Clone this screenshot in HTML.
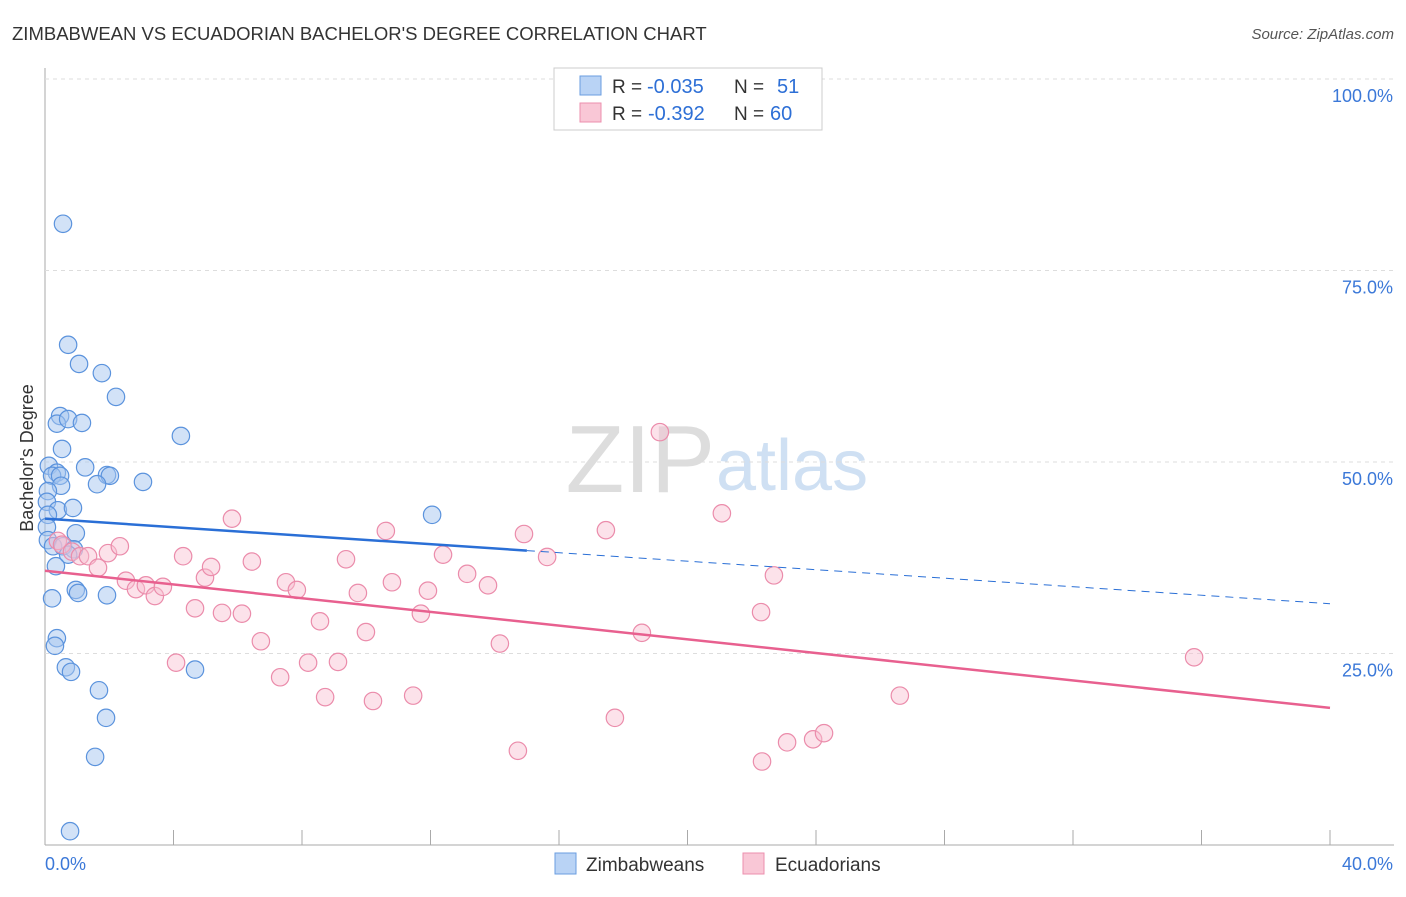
<!DOCTYPE html>
<html><head><meta charset="utf-8"><style>
body{margin:0;background:#fff;font-family:"Liberation Sans",sans-serif}
svg text{font-family:"Liberation Sans",sans-serif}
</style></head><body>
<svg id="c" width="1406" height="892">
<text x="12" y="40" font-size="18.5" fill="#333">ZIMBABWEAN VS ECUADORIAN BACHELOR'S DEGREE CORRELATION CHART</text>
<text x="1394" y="39" font-size="15" fill="#555" font-style="italic" text-anchor="end">Source: ZipAtlas.com</text>
<text x="33" y="458" font-size="18" fill="#333" text-anchor="middle" transform="rotate(-90 33 458)">Bachelor's Degree</text>
<text x="715" y="492" font-size="96" fill="#ddd" text-anchor="end" font-family="Liberation Serif">ZIP</text>
<text x="716" y="490" font-size="72" fill="#cfe0f3">atlas</text>
<g id="grid"></g><g id="marks"></g>
<g>
<rect x="554" y="68" width="268" height="62" fill="#fff" stroke="#ccc"/>
<rect x="580" y="76" width="21" height="19" fill="#b9d3f5" stroke="#6a9ee0"/>
<rect x="580" y="103" width="21" height="19" fill="#f9c7d6" stroke="#ec8fae"/>
<text x="612" y="93" font-size="19" fill="#333">R =</text>
<text x="647" y="93" font-size="20" fill="#2d6fd6">-0.035</text>
<text x="734" y="93" font-size="19" fill="#333">N =</text>
<text x="777" y="93" font-size="20" fill="#2d6fd6">51</text>
<text x="612" y="120" font-size="19" fill="#333">R =</text>
<text x="648" y="120" font-size="20" fill="#2d6fd6">-0.392</text>
<text x="734" y="120" font-size="19" fill="#333">N =</text>
<text x="770" y="120" font-size="20" fill="#2d6fd6">60</text>
</g>
<g>
<rect x="555" y="853" width="21" height="21" fill="#b9d3f5" stroke="#6a9ee0"/>
<text x="586" y="871" font-size="19" fill="#333">Zimbabweans</text>
<rect x="743" y="853" width="21" height="21" fill="#f9c7d6" stroke="#ec8fae"/>
<text x="775" y="871" font-size="19" fill="#333">Ecuadorians</text>
</g>
</svg>
<script>
const yTicks=[25,50,75,100];
const xTickLabels=["0.0%","40.0%"];
const zimX=[0.56,0.72,1.06,1.77,2.21,0.47,0.37,0.72,1.15,4.23,0.53,0.12,1.25,0.37,0.22,0.47,1.93,2.02,3.05,1.62,0.50,0.09,0.06,0.40,0.87,12.05,0.09,0.06,0.96,0.09,0.25,0.56,0.90,0.72,0.34,0.96,1.03,1.93,0.22,0.37,0.31,0.65,0.81,4.67,1.68,1.90,1.56,0.78];
const zimY=[81.1,65.3,62.8,61.6,58.5,56.0,55.0,55.6,55.1,53.4,51.7,49.5,49.3,48.6,48.2,48.2,48.3,48.2,47.4,47.1,46.9,46.2,44.8,43.7,44.0,43.1,43.1,41.5,40.7,39.8,39.0,39.0,38.6,37.9,36.4,33.3,32.9,32.6,32.2,27.0,26.0,23.2,22.6,22.9,20.2,16.6,11.5,1.8];
const ecuX=[0.40,0.53,0.84,1.09,1.34,1.96,2.33,1.65,2.52,2.83,3.14,3.42,3.67,4.08,4.30,4.67,4.98,5.17,5.51,5.82,6.13,6.44,6.72,7.32,7.50,7.84,8.19,8.56,8.72,9.12,9.37,9.74,9.99,10.21,10.61,10.80,11.46,11.70,11.92,12.39,13.14,13.79,14.16,14.72,14.91,15.63,17.46,17.74,18.58,19.14,21.07,22.29,22.32,22.69,23.10,23.91,24.25,26.61,35.77];
const ecuY=[39.7,39.2,38.3,37.7,37.7,38.1,39.0,36.2,34.5,33.4,33.9,32.5,33.7,23.8,37.7,30.9,34.9,36.3,30.3,42.6,30.2,37.0,26.6,21.9,34.3,33.3,23.8,29.2,19.3,23.9,37.3,32.9,27.8,18.8,41.0,34.3,19.5,30.2,33.2,37.9,35.4,33.9,26.3,12.3,40.6,37.6,41.1,16.6,27.7,53.9,43.3,30.4,10.9,35.2,13.4,13.8,14.6,19.5,24.5];
const zimTrend=[42.6,31.5], ecuTrend=[35.8,17.9];
const X=v=>45+v*32.125, Y=v=>845-v*7.66;
const ns="http://www.w3.org/2000/svg";
const grid=document.getElementById('grid'), marks=document.getElementById('marks');
function mk(tag,attrs,parent){const e=document.createElementNS(ns,tag);for(const k in attrs)e.setAttribute(k,attrs[k]);parent.appendChild(e);return e;}
let ax=mk('line',{x1:45,y1:68,x2:45,y2:845,stroke:'#aaa'},grid);


let bx=mk('line',{x1:45,y1:845,x2:1394,y2:845,stroke:'#aaa'},grid);


for(let i=1;i<=10;i++){let t=mk('line',{x1:45+i*128.5,y1:830,x2:45+i*128.5,y2:845,stroke:'#aaa'},grid);

}
yTicks.forEach(v=>{let g=mk('line',{x1:45,y1:Y(v),x2:1394,y2:Y(v),stroke:'#ddd','stroke-dasharray':'4,4'},grid);


let t=mk('text',{x:1393,y:Y(v)+23,'font-size':18,fill:'#3b78d8','text-anchor':'end'},grid);t.textContent=v.toFixed(1)+'%';

});
let l0=mk('text',{x:45,y:870,'font-size':18,fill:'#3b78d8'},grid);l0.textContent=xTickLabels[0];


let l1=mk('text',{x:1393,y:870,'font-size':18,fill:'#3b78d8','text-anchor':'end'},grid);l1.textContent=xTickLabels[1];


zimX.forEach((x,i)=>{let c=mk('circle',{cx:X(x),cy:Y(zimY[i]),r:8.7,fill:'rgba(165,197,240,0.5)',stroke:'#5b93dd','stroke-width':1.2},marks);

});
ecuX.forEach((x,i)=>{let c=mk('circle',{cx:X(x),cy:Y(ecuY[i]),r:8.7,fill:'rgba(248,190,208,0.45)',stroke:'#eb8cab','stroke-width':1.2},marks);

});
const zAt=x=>zimTrend[0]+(zimTrend[1]-zimTrend[0])*x/40;
let z1=mk('line',{x1:X(0),y1:Y(zAt(0)),x2:X(15),y2:Y(zAt(15)),stroke:'#2a6fd6','stroke-width':2.5},marks);


let z2=mk('line',{x1:X(15),y1:Y(zAt(15)),x2:X(40),y2:Y(zAt(40)),stroke:'#2a6fd6','stroke-width':1,'stroke-dasharray':'8,6'},marks);


let e1=mk('line',{x1:X(0),y1:Y(ecuTrend[0]),x2:X(40),y2:Y(ecuTrend[1]),stroke:'#e8608f','stroke-width':2.5},marks);


</script>
</body></html>
